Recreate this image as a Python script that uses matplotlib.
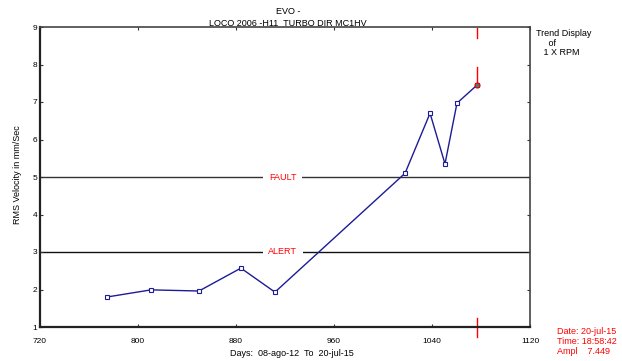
import matplotlib
matplotlib.use("Agg")
import matplotlib.pyplot as plt
import numpy as np

plt.rcParams['font.family'] = ['Liberation Sans', 'DejaVu Sans']

# trend data (days since start, RMS velocity mm/s)
days = [774.7, 810.6, 849.8, 884.0, 911.8, 1018.0, 1038.4, 1050.6, 1060.4, 1076.7]
rms = [1.80, 1.99, 1.96, 2.57, 1.93, 5.10, 6.70, 5.35, 6.97, 7.449]
xticks = [720, 800, 880, 960, 1040, 1120]
yticks = [1, 2, 3, 4, 5, 6, 7, 8, 9]
fault_level = 5
alert_level = 3

fig = plt.figure(figsize=(6.22, 3.61), dpi=100)
ax = fig.add_axes([40/622, 34/361, 490/622, 300/361])

ax.set_xlim(720, 1120)
ax.set_ylim(1, 9)
ax.set_xticks(xticks)
ax.set_yticks(yticks)
ax.tick_params(labelsize=6, length=2, width=0.8, color='#333333', direction='in',
               top=True, right=True, pad=8)
ax.tick_params(axis='y', pad=2)
for side in ['left', 'bottom']:
    ax.spines[side].set_linewidth(1.6)
    ax.spines[side].set_color('#222222')
for side in ['top', 'right']:
    ax.spines[side].set_linewidth(1.2)
    ax.spines[side].set_color('#444444')

# alarm levels
ax.axhline(fault_level, color='#333333', lw=1.0, zorder=1)
ax.axhline(alert_level, color='#111111', lw=1.0, zorder=1)
ax.text(918, fault_level, 'FAULT', color='red', fontsize=6.5, ha='center', va='center',
        bbox=dict(facecolor='white', edgecolor='none', pad=4), zorder=2)
ax.text(918, alert_level, 'ALERT', color='red', fontsize=6.5, ha='center', va='center',
        bbox=dict(facecolor='white', edgecolor='none', pad=4), zorder=2)

# trend line
ax.plot(days, rms, color='#1c1c96', lw=1.0, marker='s', ms=2.5, mfc='white',
        mec='#1c1c96', mew=0.8, zorder=3)

# cursor at latest reading
ax.axvline(days[-1], ymin=0.963, ymax=0.997, color='red', lw=1.0)
ax.axvline(days[-1], ymin=0.813, ymax=0.867, color='red', lw=1.0)
ax.axvline(days[-1], ymin=-0.033, ymax=0.03, color='red', lw=1.0, clip_on=False)
ax.plot(days[-1], rms[-1], 'o', ms=3.5, mfc='#209080', mec='red', mew=0.9, zorder=4)

fig.text(288/622, 1 - 12/361, 'EVO -', fontsize=6.5, ha='center', va='center')
fig.text(288/622, 1 - 24/361, 'LOCO 2006 -H11  TURBO DIR MC1HV', fontsize=6.5,
         ha='center', va='center')
fig.text(536/622, 1 - 29/361, 'Trend Display\n     of\n   1 X RPM', fontsize=6.5,
         ha='left', va='top', linespacing=1.1)
fig.text(557/622, 1 - 327/361, 'Date: 20-jul-15\nTime: 18:58:42\nAmpl    7.449',
         fontsize=6.5, color='red', ha='left', va='top', linespacing=1.15)
fig.text(292/622, 1 - 353/361, 'Days:  08-ago-12  To  20-jul-15', fontsize=6.5,
         ha='center', va='center')
fig.text(18/622, 1 - 175/361, 'RMS Velocity in mm/Sec', fontsize=6.5, rotation=90,
         ha='center', va='center')

fig.savefig('out.png', dpi=100)
